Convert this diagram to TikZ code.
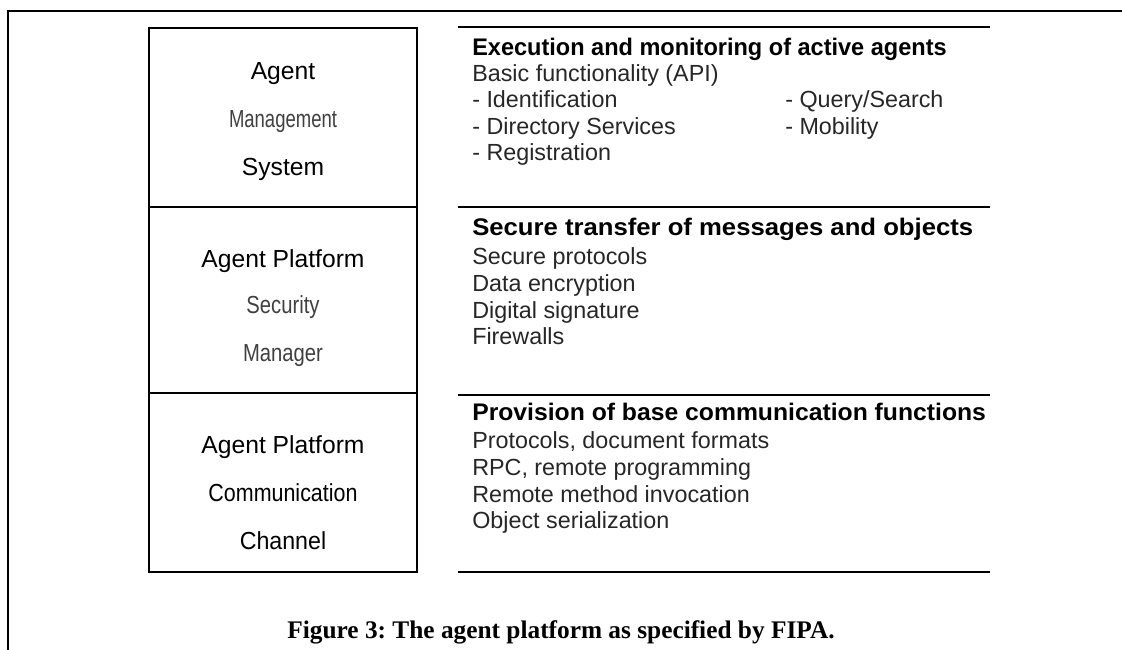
\documentclass[tikz,border=0pt]{standalone}
\usepackage{fontspec}
\setmainfont{Liberation Sans}
\newfontfamily\capfont{Liberation Serif}
\newcommand{\hsc}[2]{\scalebox{#1}[1]{#2}}
\begin{document}
\frenchspacing
\begin{tikzpicture}[x=0.75pt,y=-0.75pt,
  rule/.style={line width=2.1pt},
  cellbox/.style={draw,line width=1.8pt,minimum width=268*0.75pt,inner sep=0pt},
  lefttxt/.style={anchor=base,inner sep=0pt,font=\fontsize{18.5}{20}\selectfont},
  softtxt/.style={lefttxt,text=black!75},
  head/.style={anchor=base west,inner sep=0pt,font=\bfseries\fontsize{18}{20}\selectfont},
  item/.style={anchor=base west,inner sep=0pt,text=black!85,font=\fontsize{17.5}{20}\selectfont}]
\useasboundingbox (0,0) rectangle (1122,650);

% page frame: top rule and left rule
\coordinate (ftl) at (8,11);
\coordinate (ftr) at (1122,11);
\coordinate (fbl) at (8,650);
\draw[rule] (fbl) -- (ftl) -- (ftr);

% left column: the three components
\node[cellbox,minimum height=179*0.75pt] (ams) at (283,117.5) {};
\node[cellbox,minimum height=186*0.75pt] (apsm) at (283,300) {};
\node[cellbox,minimum height=179*0.75pt] (apcc) at (283,482.5) {};

\node[lefttxt] (ams1) at (283,79) {Agent};
\node[softtxt] (ams2) at (283,127) {\hsc{0.75}{Management}};
\node[lefttxt] (ams3) at (283,175) {System};

\node[lefttxt] (apsm1) at (283,267) {Agent Platform};
\node[softtxt] (apsm2) at (283,313) {\hsc{0.82}{Security}};
\node[softtxt] (apsm3) at (283,361) {\hsc{0.82}{Manager}};

\node[lefttxt] (apcc1) at (283,453) {Agent Platform};
\node[lefttxt] (apcc2) at (283,501) {\hsc{0.87}{Communication}};
\node[lefttxt] (apcc3) at (283,549) {\hsc{0.94}{Channel}};

% right column: separating rules
\coordinate (r0a) at (458,27);  \coordinate (r0b) at (990,27);
\coordinate (r1a) at (458,207); \coordinate (r1b) at (990,207);
\coordinate (r2a) at (458,395); \coordinate (r2b) at (990,395);
\coordinate (r3a) at (458,572); \coordinate (r3b) at (990,572);
\draw[rule] (r0a) -- (r0b);
\draw[rule] (r1a) -- (r1b);
\draw[rule] (r2a) -- (r2b);
\draw[rule] (r3a) -- (r3b);

% right column: descriptions
\node[head] (h1) at (472,55) {\hsc{0.98}{Execution and monitoring of active agents}};
\node[item] (i11) at (472,81) {Basic functionality (API)};
\node[item] (i12) at (472,107) {- Identification};
\node[item] (i13) at (472,134) {- Directory Services};
\node[item] (i14) at (472,160) {- Registration};
\node[item] (i15) at (785,107) {- Query/Search};
\node[item] (i16) at (785,134) {- Mobility};

\node[head] (h2) at (472,235) {\hsc{1.07}{Secure transfer of messages and objects}};
\node[item] (i21) at (472,264) {Secure protocols};
\node[item] (i22) at (472,291) {Data encryption};
\node[item] (i23) at (472,318) {Digital signature};
\node[item] (i24) at (472,344) {Firewalls};

\node[head] (h3) at (472,420) {\hsc{1.03}{Provision of base communication functions}};
\node[item] (i31) at (472,448) {Protocols, document formats};
\node[item] (i32) at (472,475) {RPC, remote programming};
\node[item] (i33) at (472,502) {Remote method invocation};
\node[item] (i34) at (472,528) {Object serialization};

% caption
\node[anchor=base,inner sep=0pt,font=\capfont\bfseries\fontsize{19}{21}\selectfont] (cap) at (561,638)
  {Figure 3: The agent platform as specified by FIPA.};
\end{tikzpicture}
\end{document}
